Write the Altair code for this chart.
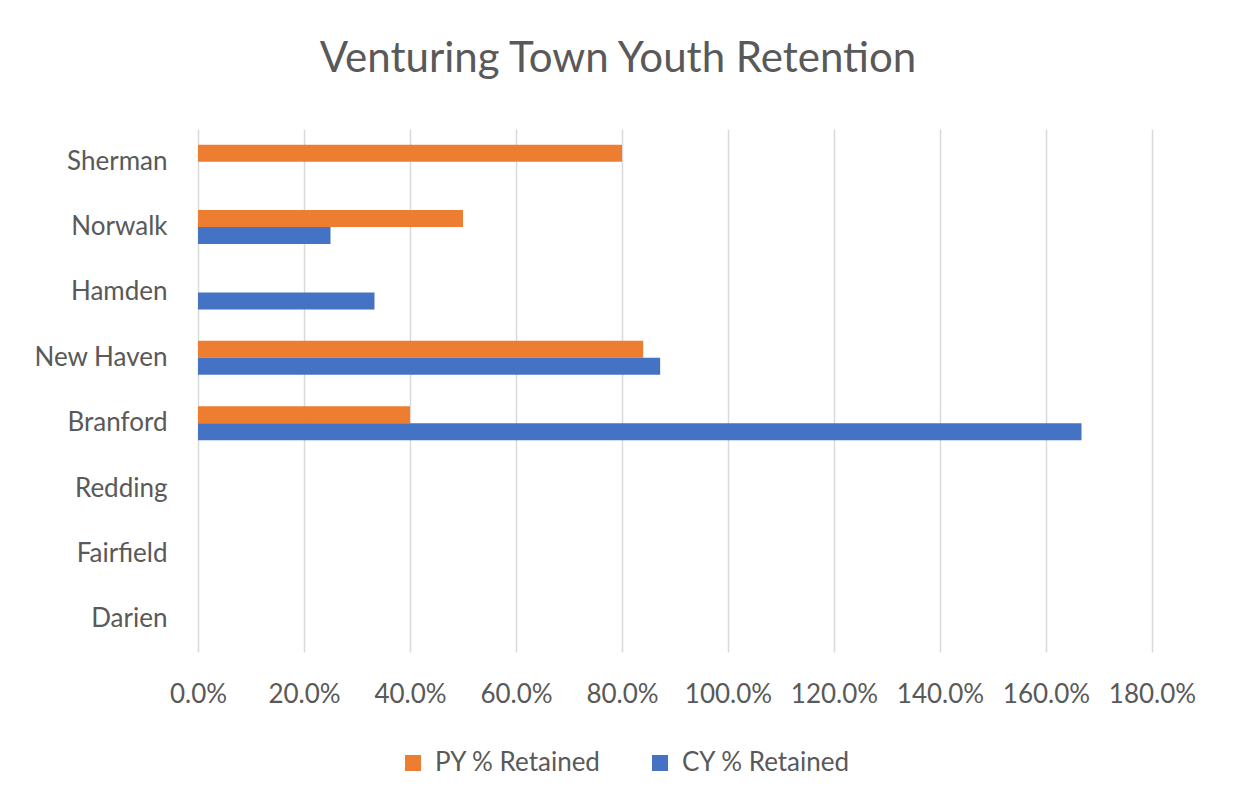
import altair as alt
import pandas as pd

towns = ["Sherman", "Norwalk", "Hamden", "New Haven", "Branford", "Redding", "Fairfield", "Darien"]
series = ["PY % Retained", "CY % Retained"]
py_retained = [0.80, 0.50, None, 0.84, 0.40, None, None, None]
cy_retained = [None, 0.25, 0.333, 0.872, 1.667, None, None, None]
colors = ["#ED7D31", "#4472C4"]
x_ticks = [0, 0.2, 0.4, 0.6, 0.8, 1.0, 1.2, 1.4, 1.6, 1.8]

rows = []
for t, p, c in zip(towns, py_retained, cy_retained):
    if p is not None:
        rows.append({"Town": t, "Series": series[0], "Value": p})
    if c is not None:
        rows.append({"Town": t, "Series": series[1], "Value": c})
df = pd.DataFrame(rows)

FONT = "Lato"
GRAY = "#595959"

chart = alt.Chart(df).mark_bar().encode(
    y=alt.Y("Town:N", sort=towns,
            scale=alt.Scale(domain=towns, paddingInner=0.48, paddingOuter=0.24),
            axis=alt.Axis(title=None, domain=False, ticks=False, grid=False,
                          labelFont=FONT, labelFontSize=26, labelColor=GRAY,
                          labelPadding=31)),
    yOffset=alt.YOffset("Series:N", sort=series,
                        scale=alt.Scale(domain=series, paddingInner=0, paddingOuter=0)),
    x=alt.X("Value:Q",
            scale=alt.Scale(domain=[0, 1.8], nice=False),
            axis=alt.Axis(title=None, format=".1%", values=x_ticks, domain=False, ticks=False,
                          grid=True, gridColor="#d9d9d9", gridWidth=1.5,
                          labelOverlap=False, labelFlush=False, labelBound=False,
                          labelFont=FONT, labelFontSize=26, labelColor=GRAY,
                          labelPadding=29)),
    color=alt.Color("Series:N", sort=series,
                    scale=alt.Scale(domain=series, range=colors),
                    legend=alt.Legend(title=None, orient="none", direction="horizontal",
                                      legendX=202, legendY=621,
                                      symbolType="square", symbolSize=256,
                                      symbolStrokeWidth=0, labelLimit=0,
                                      labelFont=FONT, labelFontSize=26, labelColor=GRAY,
                                      labelOffset=9, columnPadding=46, padding=0)),
).properties(
    width=954,
    height=523,
    title=alt.TitleParams("Venturing Town Youth Retention", font=FONT, fontSize=42,
                          fontWeight="normal", color=GRAY, anchor="middle",
                          dx=-57, offset=48),
    autosize=alt.AutoSizeParams(type="none"),
    padding={"left": 190, "top": 121, "right": 74, "bottom": 151},
).configure(background="white").configure_view(strokeWidth=0, stroke="transparent")

chart.save("out.html", embed_options={"renderer": "svg", "actions": False})
